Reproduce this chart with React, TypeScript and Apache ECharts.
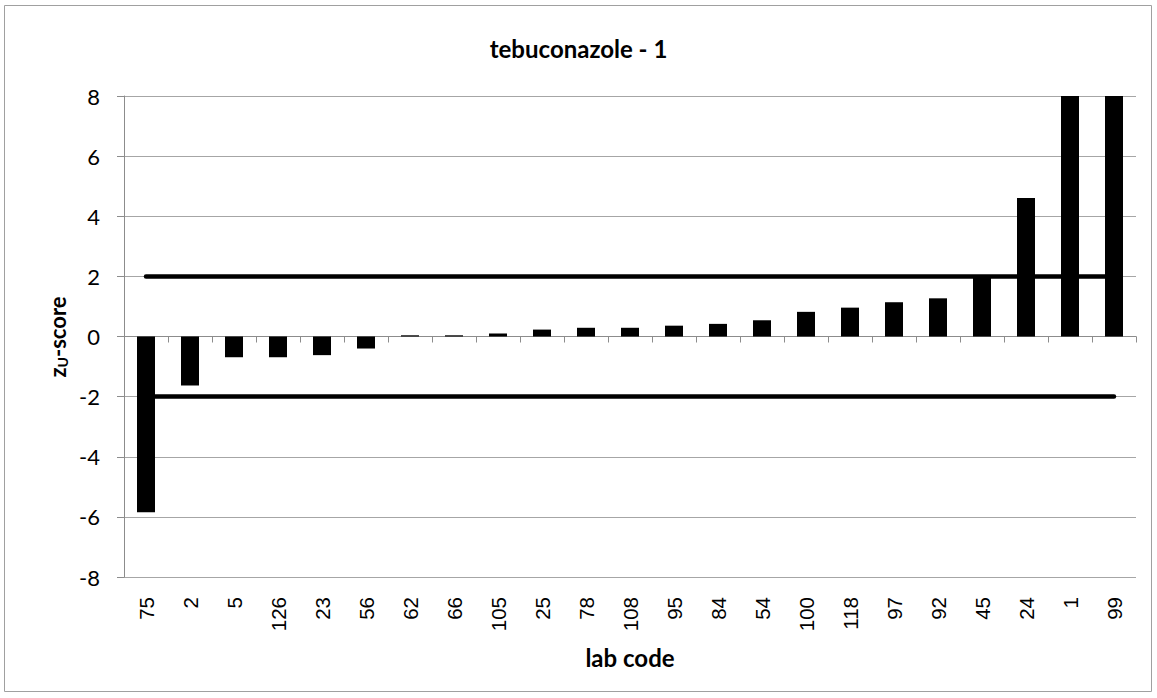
import React, { useEffect, useRef } from "react";
import * as echarts from "echarts";

const titleText = "tebuconazole - 1";
const xAxisName = "lab code";
const labCodes = ["75", "2", "5", "126", "23", "56", "62", "66", "105", "25", "78", "108", "95", "84", "54", "100", "118", "97", "92", "45", "24", "1", "99"];
const zScores = [-5.85, -1.63, -0.69, -0.69, -0.62, -0.4, 0.04, 0.04, 0.1, 0.23, 0.29, 0.29, 0.36, 0.42, 0.54, 0.82, 0.96, 1.14, 1.27, 1.98, 4.61, 9.2, 11.4];
const limits = [2, -2];
const yTicks = { min: -8, max: 8, interval: 2 };

const CAL = "Lato, 'Open Sans', sans-serif";

function measure(text: string, font: string) {
  const c = document.createElement("canvas").getContext("2d")!;
  c.font = font;
  return c.measureText(text).width;
}

export default function App() {
  const ref = useRef<HTMLDivElement>(null);
  useEffect(() => {
    if (!ref.current) return;
    const chart = echarts.init(ref.current, null, { renderer: "svg" });

    const bigFont = "bold 22px " + CAL;
    const subFont = "bold 14px " + CAL;
    const wZ = measure("z", bigFont);
    const wU = measure("U", subFont);
    const wRest = measure("-score", bigFont);
    const total = wZ + wU + wRest;
    const x0 = -total / 2;

    const last = labCodes.length - 1;
    const markData = limits.map((v) => [
      { coord: [labCodes[0], v] },
      { coord: [labCodes[last], v] },
    ]);

    chart.setOption({
      animation: false,
      backgroundColor: "#ffffff",
      title: {
        text: titleText,
        left: "center",
        top: 31,
        textStyle: { fontFamily: CAL, fontWeight: "bold", fontSize: 24, color: "#000" },
      },
      grid: { left: 124, top: 96, right: 21, bottom: 121 },
      xAxis: [
        {
          type: "category",
          data: labCodes,
          position: "bottom",
          axisLine: { show: false, onZero: false },
          axisTick: { show: false },
          axisLabel: {
            rotate: 90,
            margin: 20,
            interval: 0,
            fontFamily: "'Liberation Sans', Arial, sans-serif",
            fontSize: 20.5,
            color: "#000",
          },
          name: xAxisName,
          nameLocation: "middle",
          nameGap: 68,
          nameTextStyle: { fontFamily: CAL, fontWeight: "bold", fontSize: 24, color: "#000" },
        },
        {
          type: "category",
          data: labCodes,
          position: "bottom",
          axisLine: { show: true, onZero: true, lineStyle: { color: "#8c8c8c", width: 1 } },
          axisTick: { show: true, length: 6, lineStyle: { color: "#8c8c8c" } },
          axisLabel: { show: false },
        },
      ],
      yAxis: {
        type: "value",
        min: yTicks.min,
        max: yTicks.max,
        interval: yTicks.interval,
        axisLine: { show: true, lineStyle: { color: "#8c8c8c", width: 1 } },
        axisTick: { show: true, length: 7, lineStyle: { color: "#8c8c8c" } },
        axisLabel: { margin: 24, fontFamily: CAL, fontSize: 22, color: "#000" },
        splitLine: { show: true, lineStyle: { color: "#a6a6a6", width: 1 } },
      },
      series: [
        {
          type: "bar",
          data: zScores,
          barWidth: 18,
          clip: true,
          itemStyle: { color: "#000000" },
          markLine: {
            silent: true,
            symbol: ["none", "none"],
            label: { show: false },
            lineStyle: { color: "#000000", width: 4.5, type: "solid", cap: "round" },
            emphasis: { disabled: true },
            data: markData,
          },
        },
      ],
      graphic: [
        {
          type: "rect",
          shape: { x: 4.5, y: 5.5, width: 1147, height: 686 },
          style: { fill: "none", stroke: "#a0a0a0", lineWidth: 1 },
          silent: true,
        },
        {
          type: "group",
          x: 57,
          y: 337,
          rotation: Math.PI / 2,
          children: [
            {
              type: "text",
              x: x0,
              y: 0,
              style: { text: "z", font: bigFont, fill: "#000", verticalAlign: "middle" },
            },
            {
              type: "text",
              x: x0 + wZ,
              y: 5,
              style: { text: "U", font: subFont, fill: "#000", verticalAlign: "middle" },
            },
            {
              type: "text",
              x: x0 + wZ + wU,
              y: 0,
              style: { text: "-score", font: bigFont, fill: "#000", verticalAlign: "middle" },
            },
          ],
        },
      ],
    });
    return () => chart.dispose();
  }, []);
  return (
    <div
      ref={ref}
      style={{ position: "absolute", left: 0, top: 0, width: 1157, height: 698, background: "#fff" }}
    />
  );
}
